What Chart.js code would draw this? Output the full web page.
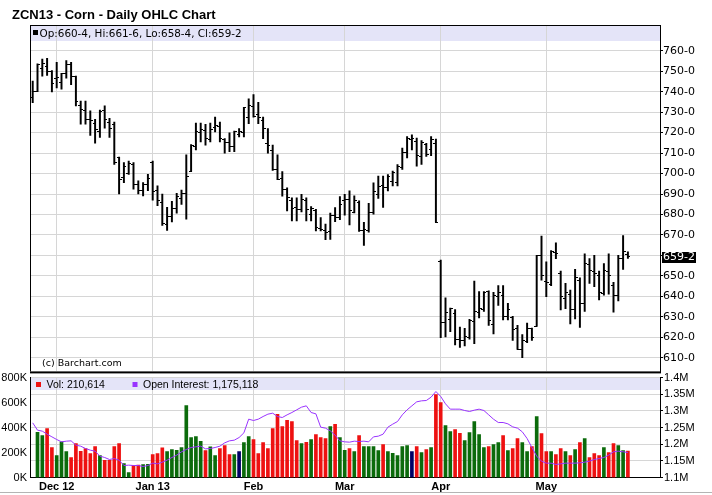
<!DOCTYPE html>
<html>
<head>
<meta charset="utf-8">
<title>ZCN13 - Corn - Daily OHLC Chart</title>
<script src="https://cdn.jsdelivr.net/npm/chart.js@4.4.0/dist/chart.umd.min.js"></script>
<style>
  html, body { margin: 0; padding: 0; background: #fff; }
  #wrap { position: relative; width: 712px; height: 495px; overflow: hidden; }
  #priceChart { position: absolute; left: 0; top: 0; }
  #volumeChart { position: absolute; left: 0; top: 360px; }
</style>
</head>
<body>
<div id="wrap">
  <canvas id="priceChart" width="712" height="378"></canvas>
  <canvas id="volumeChart" width="712" height="135"></canvas>
</div>
<script>
'use strict';
const chartTitle = 'ZCN13 - Corn - Daily OHLC Chart';

// x axis: trading day index, month labels sit on the first session of each month
const monthLabels = ['Dec 12', 'Jan 13', 'Feb', 'Mar', 'Apr', 'May'];
const monthStarts = [5, 25, 46, 65, 85, 107];

const priceTicks = [610, 620, 630, 640, 650, 660, 670, 680, 690, 700, 710, 720, 730, 740, 750, 760];
const volumeTicks = [0, 200, 400, 600, 800];          // thousands
const oiTicks = [1100, 1150, 1200, 1250, 1300, 1350, 1400]; // thousands

// daily OHLC, cents per bushel (Nov 26 2012 - May 24 2013)
const opens = [
  737.0, 740.2, 751.1, 752.4, 749.9, 746.6, 744.7, 748.7, 753.1, 747.4,
  733.4, 731.0, 726.2, 724.6, 720.5, 731.0, 725.1, 724.1, 707.7, 698.0,
  699.9, 704.4, 694.8, 691.9, 694.8, 705.3, 691.6, 685.9, 675.1, 679.0,
  682.7, 687.7, 690.2, 701.0, 713.4, 719.9, 721.2, 716.7, 722.4, 722.8,
  716.7, 715.0, 713.1, 719.2, 719.9, 727.6, 732.8, 728.9, 725.7, 714.7,
  711.5, 701.8, 697.8, 692.2, 687.0, 683.3, 682.5, 687.0, 680.1, 681.7,
  673.3, 672.0, 671.7, 679.4, 678.6, 686.7, 687.1, 681.0, 685.9, 672.2,
  672.2, 681.0, 689.9, 694.2, 693.1, 696.3, 695.8, 702.8, 710.3, 716.8,
  715.7, 708.4, 714.0, 711.9, 714.5, 657.2, 627.4, 628.7, 631.4, 619.0,
  618.2, 619.8, 627.9, 632.3, 633.4, 642.3, 626.1, 639.8, 640.3, 630.0,
  629.7, 624.2, 614.0, 618.1, 624.2, 625.3, 660.0, 647.4, 645.8, 661.6,
  651.1, 638.7, 641.0, 633.4, 647.9, 636.6, 655.5, 652.3, 650.3, 641.5,
  651.9, 645.5, 640.6, 658.4, 660.5
];
const highs = [
  745.2, 753.6, 756.0, 756.3, 750.3, 754.4, 749.0, 755.2, 754.4, 747.6,
  735.4, 735.4, 730.7, 726.5, 731.0, 733.1, 727.0, 725.1, 708.0, 705.3,
  706.1, 705.3, 696.4, 695.6, 699.6, 706.1, 694.0, 690.0, 683.5, 686.4,
  690.3, 691.9, 709.1, 714.2, 724.7, 724.7, 724.1, 724.7, 727.6, 725.2,
  717.1, 719.9, 720.8, 722.0, 732.4, 736.5, 738.6, 734.8, 727.6, 722.0,
  713.9, 709.1, 701.0, 693.0, 688.1, 688.1, 689.8, 688.1, 683.8, 682.5,
  678.5, 675.3, 680.7, 683.4, 688.8, 689.9, 691.5, 689.1, 686.7, 676.2,
  685.4, 695.5, 698.7, 698.7, 699.5, 701.2, 704.4, 712.4, 718.1, 718.9,
  717.3, 716.1, 714.8, 718.1, 716.8, 657.7, 639.2, 634.3, 633.5, 625.0,
  624.3, 628.7, 647.5, 642.3, 642.3, 642.7, 641.9, 645.2, 645.2, 636.6,
  630.2, 625.8, 621.3, 626.9, 624.5, 660.0, 669.4, 656.8, 662.4, 666.1,
  652.3, 646.3, 643.1, 653.2, 649.0, 660.8, 658.4, 660.0, 652.3, 656.0,
  660.8, 646.8, 660.0, 669.7, 661.75
];
const lows = [
  734.6, 740.0, 747.6, 747.9, 739.9, 741.8, 741.2, 746.6, 743.4, 733.1,
  724.1, 724.1, 718.6, 714.9, 717.6, 722.2, 717.6, 704.4, 690.0, 695.6,
  699.6, 692.4, 690.0, 689.1, 691.6, 687.0, 684.3, 674.7, 672.2, 676.3,
  680.6, 684.9, 677.7, 701.0, 711.5, 715.5, 713.9, 715.5, 720.4, 715.5,
  709.9, 710.7, 710.7, 717.9, 717.9, 724.4, 727.6, 724.4, 717.1, 709.9,
  701.5, 697.0, 689.0, 681.7, 676.9, 676.9, 681.2, 676.9, 676.9, 672.0,
  672.0, 667.7, 667.8, 676.5, 677.5, 679.7, 674.9, 680.7, 671.7, 664.9,
  671.4, 680.2, 687.8, 683.4, 691.5, 693.9, 693.9, 702.0, 707.6, 711.6,
  703.6, 704.4, 708.4, 708.7, 676.2, 619.8, 620.2, 622.7, 616.3, 615.0,
  615.8, 619.0, 616.9, 629.4, 632.6, 625.8, 621.6, 635.5, 628.4, 628.4,
  618.4, 614.0, 610.0, 617.3, 618.4, 625.3, 647.9, 639.8, 645.2, 658.4,
  633.4, 633.9, 626.5, 629.0, 624.8, 632.6, 646.3, 644.7, 638.2, 640.6,
  641.0, 632.3, 637.7, 653.2, 658.5
];
const closes = [
  740.2, 753.2, 753.7, 749.9, 744.2, 747.1, 748.7, 753.1, 747.4, 735.4,
  731.3, 726.5, 725.7, 721.4, 730.5, 726.2, 722.2, 705.3, 697.2, 703.6,
  704.8, 694.8, 691.9, 694.8, 697.5, 691.2, 686.7, 675.5, 679.0, 682.7,
  688.7, 690.2, 698.6, 713.9, 720.7, 721.5, 717.1, 721.5, 723.6, 717.1,
  715.0, 713.1, 720.4, 720.4, 732.1, 733.2, 728.1, 727.6, 722.0, 713.9,
  701.8, 697.3, 692.2, 688.1, 682.8, 682.5, 687.3, 682.5, 682.8, 673.7,
  672.5, 671.2, 679.7, 678.6, 685.1, 687.1, 681.8, 686.7, 672.2, 672.8,
  681.0, 691.0, 693.9, 693.1, 698.7, 700.4, 703.6, 710.3, 717.3, 717.3,
  708.7, 715.2, 709.2, 716.8, 676.2, 627.1, 632.2, 633.8, 619.0, 618.6,
  620.2, 628.2, 632.4, 633.9, 641.8, 628.1, 640.6, 641.8, 630.0, 633.4,
  623.7, 614.0, 618.4, 624.5, 619.7, 660.0, 650.3, 646.8, 661.9, 660.8,
  639.8, 641.9, 633.4, 649.0, 636.6, 656.0, 652.7, 651.1, 641.9, 652.7,
  650.0, 640.3, 658.7, 661.9, 659.25
];
// volume, thousands of contracts
const volumes = [
  null, 362, 336, 392, 240, 176, 286, 208, 160, 272,
  210, 232, 192, 248, 176, 138, 138, 248, 272, 112,
  40, 96, 100, 104, 106, 184, 192, 238, 208, 224,
  218, 240, 576, 320, 328, 290, 216, 245, 176, 232,
  256, 184, 184, 208, 280, 328, 304, 192, 280, 232,
  392, 506, 408, 458, 448, 296, 272, 282, 304, 344,
  320, 312, 408, 426, 320, 218, 232, 208, 336, 248,
  248, 248, 216, 264, 208, 194, 176, 248, 256, 208,
  248, 200, 224, 240, 664, 600, 416, 368, 384, 354,
  296, 360, 448, 344, 240, 248, 264, 280, 336, 216,
  232, 312, 280, 208, 248, 488, 352, 208, 208, 184,
  232, 208, 176, 224, 280, 312, 160, 192, 176, 240,
  200, 272, 256, 216, 210.614
];
// open interest, thousands of contracts
const openInterest = [
  1264, 1242, 1239, 1230, 1222, 1214, 1207, 1209, 1210, 1197,
  1194, 1187, 1182, 1179, 1164, 1160, 1154, 1157, 1152, 1136,
  1137, 1136, 1136, 1133, 1136, 1143, 1141, 1146, 1152, 1160,
  1167, 1177, 1184, 1190, 1192, 1194, 1186, 1187, 1190, 1194,
  1204, 1210, 1212, 1220, 1234, 1275, 1271, 1275, 1283, 1290,
  1293, 1283, 1280, 1288, 1295, 1303, 1311, 1315, 1295, 1291,
  1251, 1248, 1240, 1227, 1210, 1207, 1206, 1209, 1208, 1209,
  1207, 1222, 1224, 1230, 1251, 1260, 1268, 1288, 1303, 1315,
  1327, 1330, 1331, 1341, 1358, 1343, 1321, 1305, 1305, 1305,
  1301, 1298, 1302, 1305, 1301, 1288, 1275, 1265, 1265, 1261,
  1252, 1248, 1237, 1217, 1190, 1164, 1149, 1143, 1143, 1139,
  1141, 1143, 1143, 1143, 1144, 1146, 1149, 1154, 1157, 1160,
  1167, 1177, 1179, 1177, 1175.118
];

const gridColor = '#d6d6d6';
const bandColor = '#e4e4f8';
const upColor = '#0b6b0b';
const downColor = '#ee1111';
const flatColor = '#000066';
const oiColor = '#9933ff';
const xMin = -0.5625;
const xMax = 130.6875;

const days = closes.map((c, i) => i);
const last = closes.length - 1;

// corn prices are quoted in eighths: 659.25 -> "659-2"
function eighths(v) {
  const whole = Math.floor(v);
  return whole + '-' + Math.round((v - whole) * 8);
}
function thousands(v) {
  return Math.round(v * 1000).toLocaleString('en-US');
}

// open tick sits left of the bar, close tick right of it
function tickImage(side) {
  const c = document.createElement('canvas');
  c.width = 5;
  c.height = 1;
  const g = c.getContext('2d');
  g.fillStyle = '#000';
  g.fillRect(side === 'left' ? 0 : 2, 0, 3, 1);
  return c;
}

const volumeColors = closes.map((c, i) => {
  if (i === 0 || c > closes[i - 1]) return upColor;
  if (c < closes[i - 1]) return downColor;
  return flatColor;
});

const priceDecor = {
  id: 'priceDecor',
  beforeDraw(chart) {
    const { ctx, chartArea: a } = chart;
    ctx.save();
    ctx.fillStyle = bandColor;
    ctx.fillRect(a.left, a.top, a.right - a.left, 16);
    ctx.restore();
  },
  beforeDatasetsDraw(chart) {
    chart.ctx.imageSmoothingEnabled = false;
  },
  afterDraw(chart) {
    const { ctx, chartArea: a } = chart;
    ctx.save();
    ctx.fillStyle = '#000';
    ctx.font = 'bold 13px "Liberation Sans", Arial, sans-serif';
    ctx.textBaseline = 'alphabetic';
    ctx.fillText(chartTitle, 12, 19);

    ctx.fillRect(a.left, a.top, a.right - a.left, 1);
    ctx.fillRect(a.left, a.top, 1, a.bottom - a.top);
    ctx.fillRect(a.left, a.bottom, a.right - a.left + 1, 2);

    ctx.fillRect(33, 30, 5, 5);
    ctx.font = '10.4px "DejaVu Sans", sans-serif';
    ctx.fillText('Op:' + eighths(opens[last]) + ', Hi:' + eighths(highs[last]) +
      ', Lo:' + eighths(lows[last]) + ', Cl:' + eighths(closes[last]), 39.5, 36.5);

    ctx.font = '9.5px "DejaVu Sans", sans-serif';
    ctx.fillText('(c) Barchart.com', 42, 366);

    const y = chart.scales.y.getPixelForValue(closes[last]);
    ctx.fillRect(a.right + 2, Math.round(y) - 5, 34, 11);
    ctx.fillStyle = '#fff';
    ctx.font = '11px "DejaVu Sans", sans-serif';
    ctx.textBaseline = 'middle';
    ctx.fillText(eighths(closes[last]), a.right + 3, Math.round(y) + 0.5);
    ctx.restore();
  }
};

const volumeDecor = {
  id: 'volumeDecor',
  beforeDraw(chart) {
    const { ctx, chartArea: a } = chart;
    ctx.save();
    ctx.fillStyle = bandColor;
    ctx.fillRect(a.left, 18, a.right - a.left, 12);
    ctx.restore();
  },
  afterDraw(chart) {
    const { ctx } = chart;
    ctx.save();
    ctx.font = '10.5px "Liberation Sans", Arial, sans-serif';
    ctx.textBaseline = 'alphabetic';
    ctx.fillStyle = downColor;
    ctx.fillRect(36, 22, 5, 5);
    ctx.fillStyle = oiColor;
    ctx.fillRect(132.5, 22, 5, 5);
    ctx.fillStyle = '#000';
    ctx.fillText('Vol: ' + thousands(volumes[last]), 46.5, 27.5);
    ctx.fillText('Open Interest: ' + thousands(openInterest[last]), 143, 27.5);
    ctx.fillStyle = '#b4b4b4';
    ctx.fillRect(0, 132, 712, 1);
    ctx.restore();
  }
};

function monthAxis(showLabels) {
  return {
    type: 'linear',
    min: xMin,
    max: xMax,
    offset: false,
    afterBuildTicks: s => { s.ticks = monthStarts.map(v => ({ value: v })); },
    afterFit: s => { s.height = showLabels ? 17.5 : 0; },
    ticks: {
      display: showLabels,
      autoSkip: false,
      maxRotation: 0,
      padding: 3,
      color: '#000',
      font: { family: '"Liberation Sans", Arial, sans-serif', size: 11, weight: 'bold' },
      callback: v => monthLabels[monthStarts.indexOf(v)]
    },
    grid: { color: gridColor, offset: false, drawTicks: false },
    border: showLabels ? { color: '#000' } : { display: false }
  };
}

new Chart(document.getElementById('priceChart'), {
  type: 'bar',
  data: {
    datasets: [
      {
        type: 'scatter',
        label: 'Open',
        data: days.map(i => ({ x: i, y: opens[i] })),
        pointStyle: tickImage('left'),
        pointRadius: 3,
        order: 0
      },
      {
        type: 'scatter',
        label: 'Close',
        data: days.map(i => ({ x: i, y: closes[i] })),
        pointStyle: tickImage('right'),
        pointRadius: 3,
        order: 0
      },
      {
        type: 'bar',
        label: 'High-Low',
        data: days.map(i => ({ x: i, y: [lows[i], highs[i]] })),
        backgroundColor: '#000',
        borderWidth: 0,
        barThickness: 1.3,
        order: 1
      }
    ]
  },
  options: {
    responsive: false,
    devicePixelRatio: 1,
    animation: false,
    events: [],
    layout: { padding: { left: 30, top: 25, right: 0, bottom: 2 } },
    plugins: { legend: { display: false }, tooltip: { enabled: false } },
    scales: {
      x: monthAxis(false),
      y: {
        position: 'right',
        min: 603.3,
        max: 772.6,
        afterBuildTicks: s => { s.ticks = priceTicks.map(v => ({ value: v })); },
        afterFit: s => { s.width = 52; },
        ticks: {
          padding: 0,
          color: '#000',
          font: { family: '"DejaVu Sans", sans-serif', size: 11 },
          callback: v => Math.abs(v - closes[last]) < 5 ? '' : eighths(v)
        },
        grid: { color: gridColor, tickColor: '#000', tickLength: 3 },
        border: { color: '#000' }
      }
    }
  },
  plugins: [priceDecor]
});

new Chart(document.getElementById('volumeChart'), {
  type: 'bar',
  data: {
    datasets: [
      {
        type: 'line',
        label: 'Open Interest',
        data: days.map(i => ({ x: i, y: openInterest[i] })),
        yAxisID: 'yoi',
        borderColor: oiColor,
        borderWidth: 1,
        pointRadius: 0,
        tension: 0,
        order: 0
      },
      {
        type: 'bar',
        label: 'Vol',
        data: days.map(i => ({ x: i, y: volumes[i] })),
        yAxisID: 'yv',
        backgroundColor: volumeColors,
        borderWidth: 0,
        barThickness: 3,
        order: 1
      }
    ]
  },
  options: {
    responsive: false,
    devicePixelRatio: 1,
    animation: false,
    events: [],
    layout: { padding: { left: 0, top: 17.5, right: 0, bottom: 0 } },
    plugins: { legend: { display: false }, tooltip: { enabled: false } },
    scales: {
      x: monthAxis(true),
      yv: {
        position: 'left',
        min: 0,
        max: 800,
        afterBuildTicks: s => { s.ticks = volumeTicks.map(v => ({ value: v })); },
        afterFit: s => { s.width = 30; },
        ticks: {
          padding: 3,
          color: '#000',
          font: { family: '"Liberation Sans", Arial, sans-serif', size: 11 },
          callback: v => v + 'K'
        },
        grid: { display: false, drawTicks: false },
        border: { color: '#000' }
      },
      yoi: {
        position: 'right',
        min: 1100,
        max: 1400,
        afterBuildTicks: s => { s.ticks = oiTicks.map(v => ({ value: v })); },
        afterFit: s => { s.width = 52; },
        ticks: {
          padding: 1,
          color: '#000',
          font: { family: '"Liberation Sans", Arial, sans-serif', size: 11 },
          callback: v => (Math.round(v) / 1000) + 'M'
        },
        grid: { color: gridColor, tickColor: '#000', tickLength: 3 },
        border: { color: '#000' }
      }
    }
  },
  plugins: [volumeDecor]
});
</script>
</body>
</html>
